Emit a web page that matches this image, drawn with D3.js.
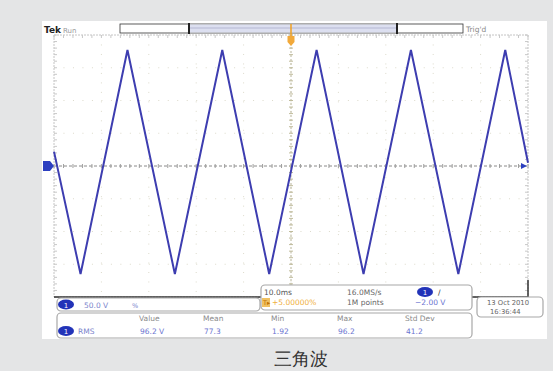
<!DOCTYPE html>
<html><head><meta charset="utf-8">
<script src="https://cdn.jsdelivr.net/npm/d3@7"></script>
<style>body{margin:0;background:#e4e5e6;}svg{display:block;}text{font-family:"DejaVu Sans",sans-serif;}</style>
</head><body><svg id="c" width="553" height="371"></svg>
<script>
// ---- data ----
const timeMs  = [0, 5.6, 15.5, 25.5, 35.5, 45.4, 55.4, 65.3, 75.3, 85.3, 95.2, 100];   // trace vertices (ms)
const voltsV  = [22, -165, 177, -165, 177, -165, 177, -165, 177, -165, 177, 5];          // trace vertices (V)
const timeDivs = d3.range(0, 101, 10);      // 10 ms/div
const voltDivs = d3.range(-200, 201, 50);   // 50 V/div
const measHeaders = ["Value", "Mean", "Min", "Max", "Std Dev"];
const measValues  = ["96.2 V", "77.3", "1.92", "96.2", "41.2"];
const caption = "三角波";

const svg = d3.select("#c");
svg.append("rect").attr("width",553).attr("height",371).attr("fill","#e4e5e6");
svg.append("rect").attr("x",42).attr("y",21).attr("width",505).attr("height",318).attr("fill","#ffffff");

const x = d3.scaleLinear().domain([0,100]).range([54,528]);
const y = d3.scaleLinear().domain([-200,200]).range([297,35]);

const g = svg.append("g");
// grid
g.selectAll(".vg").data(timeDivs).join("line")
  .attr("x1",d=>x(d)).attr("x2",d=>x(d)).attr("y1",y(200)).attr("y2",y(-200))
  .attr("stroke",d=>(d===0||d===100)?"#c4c4c4":"#dcdacb").attr("stroke-width",1)
  .attr("stroke-dasharray",d=>(d===0||d===100)?"2,1":"1,8.48");
g.selectAll(".hg").data(voltDivs).join("line")
  .attr("x1",x(0)).attr("x2",x(100)).attr("y1",d=>y(d)).attr("y2",d=>y(d))
  .attr("stroke",d=>(d===200||d===-200)?"#c4c4c4":"#dcdacb").attr("stroke-width",1)
  .attr("stroke-dasharray",d=>(d===200||d===-200)?"2,1":"1,8.48");
// center axes
g.append("line").attr("x1",x(0)).attr("x2",x(100)).attr("y1",y(0)).attr("y2",y(0))
  .attr("stroke","#8a8a8a").attr("stroke-width",1).attr("stroke-dasharray","3,2");
g.append("line").attr("x1",x(50)).attr("x2",x(50)).attr("y1",y(200)).attr("y2",y(-200))
  .attr("stroke","#b8b49a").attr("stroke-width",1).attr("stroke-dasharray","2,2");
// minor ticks on center lines and frame
const minorT = d3.range(0, 100.01, 2);
const minorV = d3.range(-200, 200.01, 10);
g.selectAll(".mt").data(minorT).join("line")
  .attr("x1",d=>x(d)).attr("x2",d=>x(d)).attr("y1",y(0)-2).attr("y2",y(0)+2).attr("stroke","#a0a0a0");
g.selectAll(".mv").data(minorV).join("line")
  .attr("x1",x(50)-2).attr("x2",x(50)+2).attr("y1",d=>y(d)).attr("y2",d=>y(d)).attr("stroke","#c0bc9c");
g.selectAll(".ml").data(minorV).join("line")
  .attr("x1",x(0)).attr("x2",x(0)+3).attr("y1",d=>y(d)).attr("y2",d=>y(d)).attr("stroke","#c8c8c8");
g.selectAll(".mr").data(minorV).join("line")
  .attr("x1",x(100)-3).attr("x2",x(100)).attr("y1",d=>y(d)).attr("y2",d=>y(d)).attr("stroke","#c8c8c8");
g.selectAll(".mtp").data(minorT).join("line")
  .attr("x1",d=>x(d)).attr("x2",d=>x(d)).attr("y1",y(200)).attr("y2",y(200)+3).attr("stroke","#c8c8c8");
// frame dark bottom
g.append("line").attr("x1",x(0)).attr("x2",x(100)).attr("y1",y(-200)).attr("y2",y(-200)).attr("stroke","#333").attr("stroke-width",1.5);
g.append("line").attr("x1",x(100)).attr("x2",x(100)).attr("y1",280).attr("y2",y(-200)).attr("stroke","#333").attr("stroke-width",1.5);

// trace
const pts = timeMs.map((t,i)=>[t,voltsV[i]]);
svg.append("path").datum(pts)
  .attr("d",d3.line().x(d=>x(d[0])).y(d=>y(d[1])))
  .attr("fill","none").attr("stroke","#3d3db0").attr("stroke-width",2).attr("stroke-linejoin","miter");

// channel markers
svg.append("path").attr("d",`M43,${y(0)-5}h7l4,5l-4,5h-7z`).attr("fill","#2c3fc0");
svg.append("path").attr("d",`M${x(100)-7},${y(0)-3}l6,3l-6,3z`).attr("fill","#2c3fc0");

// header
svg.append("text").attr("x",44).attr("y",33).attr("font-size",9).attr("font-weight","bold").attr("font-family","Liberation Serif").attr("fill","#222").text("Tek");
svg.append("text").attr("x",63).attr("y",33).attr("font-size",7).attr("fill","#999").text("Run");
svg.append("rect").attr("x",120).attr("y",24).attr("width",343).attr("height",9).attr("fill","#fff").attr("stroke","#333").attr("stroke-width",0.8);
svg.append("rect").attr("x",189).attr("y",24.5).attr("width",208).attr("height",8).attr("fill","#dcdff0");
svg.append("line").attr("x1",189).attr("x2",397).attr("y1",28).attr("y2",28).attr("stroke","#9aa0c0").attr("stroke-width",0.6);
svg.append("line").attr("x1",189).attr("x2",189).attr("y1",23).attr("y2",34).attr("stroke","#222").attr("stroke-width",2);
svg.append("line").attr("x1",397).attr("x2",397).attr("y1",23).attr("y2",34).attr("stroke","#222").attr("stroke-width",2);
svg.append("text").attr("x",466).attr("y",32).attr("font-size",7.5).attr("fill","#888").text("Trig'd");
// trigger marker
svg.append("line").attr("x1",x(50)).attr("x2",x(50)).attr("y1",24).attr("y2",36).attr("stroke","#f0a020").attr("stroke-width",1.5);
svg.append("path").attr("d",`M${x(50)-3.5},36h7v6l-3.5,4l-3.5,-4z`).attr("fill","#f2a93a");

// bottom boxes
function box(x0,y0,w,h){svg.append("rect").attr("x",x0).attr("y",y0).attr("width",w).attr("height",h).attr("rx",4)
  .attr("fill","#fff").attr("stroke","#a8a8a8").attr("stroke-width",1.2);}
function oval(cx,cy){svg.append("ellipse").attr("cx",cx).attr("cy",cy).attr("rx",8).attr("ry",5).attr("fill","#2233b8");
  svg.append("text").attr("x",cx).attr("y",cy+3).attr("text-anchor","middle").attr("font-size",7).attr("fill","#fff").text("1");}
function txt(x0,y0,s,c,fs){svg.append("text").attr("x",x0).attr("y",y0).attr("font-size",fs||7.5).attr("fill",c).text(s);}

box(57,298,203,13);
oval(66,304.5);
txt(84,308,"50.0 V","#7a84cc");
txt(132,308,"%","#7a84cc",6.5);

box(57,313,415,25);
oval(66,331);
txt(78,334,"RMS","#7a84cc");
const mx = [139,203,271,337,405];
measHeaders.forEach((h,i)=>txt(mx[i],321,h,"#8a8a8a"));
measValues.forEach((v,i)=>txt(mx[i]+1,334,v,"#6a74d0"));

box(261,285,211,25);
txt(264,295,"10.0ms","#555");
txt(347,295,"16.0MS/s","#666");
oval(425,292);
txt(438,295,"/","#333");
svg.append("rect").attr("x",262).attr("y",298).attr("width",8).attr("height",9).attr("fill","#f0c060");
txt(263,305,"T▸","#c07000",6.5);
txt(272,305,"+5.00000%","#f0b040");
txt(347,305,"1M points","#666");
txt(415,305,"−2.00 V","#6a74d0");

box(477,297,66,20);
txt(487,305,"13 Oct  2010","#666",6.8);
txt(490,314,"16:36:44","#666",6.8);

svg.append("text").attr("x",301).attr("y",358.5).attr("dominant-baseline","central").attr("text-anchor","middle")
  .attr("font-family","Noto Sans CJK SC").attr("font-size",18).attr("fill","#333").text(caption);
</script></body></html>
